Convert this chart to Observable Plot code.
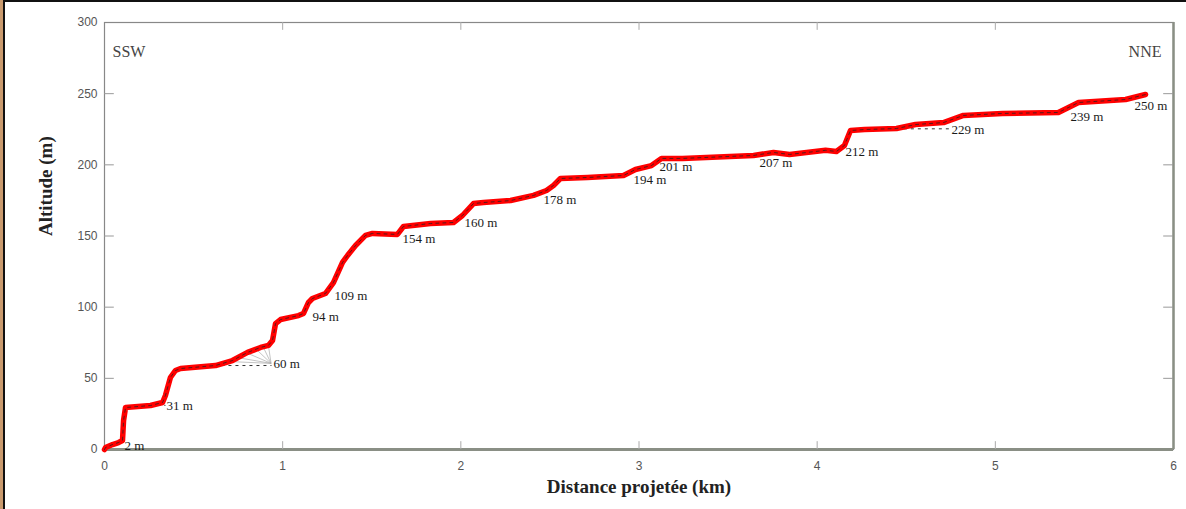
<!DOCTYPE html>
<html>
<head>
<meta charset="utf-8">
<script src="https://cdn.jsdelivr.net/npm/d3@7"></script>
<script src="https://cdn.jsdelivr.net/npm/@observablehq/plot@0.6"></script>
<style>
  html, body { margin: 0; padding: 0; background: #fff; }
  #wrap { position: relative; width: 1186px; height: 509px; overflow: hidden; }
  .tan { position: absolute; left: 0; top: 0; width: 3px; height: 509px; background: #c99a6e; }
  .blk { position: absolute; left: 3px; top: 0; width: 2px; height: 509px; background: #111; }
  .top { position: absolute; left: 3px; top: 0; width: 1183px; height: 2px; background: #111; }
  #chart { position: absolute; left: 0; top: 0; }
  g[aria-label="x-axis tick label"] text, g[aria-label="y-axis tick label"] text { fill: #555; }
</style>
</head>
<body>
<div id="wrap"><div id="chart"></div><div class="tan"></div><div class="blk"></div><div class="top"></div></div>
<script>
// Profile (distance km, altitude m)
const distKm = [0, 0.006, 0.045, 0.079, 0.101, 0.107, 0.118, 0.258, 0.326, 0.342, 0.370, 0.398, 0.427, 0.623, 0.718, 0.803, 0.876, 0.920, 0.943, 0.960, 0.988, 1.089, 1.117, 1.145, 1.167, 1.240, 1.285, 1.336, 1.364, 1.409, 1.465, 1.504, 1.644, 1.678, 1.830, 1.959, 2.009, 2.071, 2.127, 2.279, 2.408, 2.481, 2.520, 2.559, 2.711, 2.913, 2.980, 3.070, 3.126, 3.244, 3.643, 3.755, 3.845, 4.047, 4.108, 4.153, 4.187, 4.266, 4.445, 4.552, 4.709, 4.821, 5.040, 5.354, 5.467, 5.731, 5.843];
const altM   = [0, 1.4, 3.5, 4.9, 6.3, 20.4, 29.5, 30.9, 33.0, 37.9, 50.6, 55.5, 56.9, 59.0, 62.5, 68.2, 71.7, 73.1, 76.6, 88.5, 91.3, 94.1, 95.6, 103.3, 106.1, 109.6, 117.3, 131.4, 136.3, 143.3, 150.4, 151.8, 151.1, 156.7, 158.8, 159.5, 164.4, 172.8, 173.5, 174.9, 178.5, 182.0, 185.5, 190.4, 191.1, 192.5, 196.7, 199.5, 204.5, 204.5, 206.6, 208.7, 207.3, 210.2, 209.4, 213.6, 224.1, 224.8, 225.5, 228.3, 229.7, 234.7, 236.1, 236.8, 243.8, 245.9, 249.4];

// Altitude labels
const labelText = ["2 m", "31 m", "60 m", "94 m", "109 m", "154 m", "160 m", "178 m", "194 m", "201 m", "207 m", "212 m", "229 m", "239 m", "250 m"];
const labelX    = [0.112, 0.348, 0.949, 1.167, 1.291, 1.673, 2.02, 2.464, 2.969, 3.115, 3.676, 4.159, 4.754, 5.422, 5.781];
const labelY    = [2.8, 30.9, 60.4, 93.4, 108.2, 148.2, 159.5, 175.6, 189.7, 198.8, 201.6, 209.4, 224.8, 234.0, 241.7];

// Leader dashes
const leadX1 = [0.62, 0.26, 4.45];
const leadX2 = [0.94, 0.345, 4.75];
const leadY  = [59.0, 31.0, 225.3];

// Fan lines near 60 m
const fanX = [0.70, 0.75, 0.80, 0.85, 0.89, 0.92];
const fanY = [61.8, 64.5, 67.8, 70.6, 72.2, 73.0];

const xTicks = [0, 1, 2, 3, 4, 5, 6];
const yTicks = [0, 50, 100, 150, 200, 250, 300];

const profile = distKm.map((d, i) => ({x: d, y: altM[i]}));
const labels = labelText.map((t, i) => ({t, x: labelX[i], y: labelY[i]}));
const leaders = leadX1.map((x1, i) => ({x1, x2: leadX2[i], y: leadY[i]}));
const fans = fanX.map((x, i) => ({x1: 0.935, y1: 60.5, x2: x, y2: fanY[i]}));

const serif = '"Liberation Serif", "DejaVu Serif", serif';
const sans = '"Liberation Sans", Arial, sans-serif';

const chart = Plot.plot({
  width: 1186, height: 509,
  marginLeft: 104, marginRight: 13, marginTop: 22, marginBottom: 60,
  style: {fontFamily: sans, fontSize: "12px", background: "transparent"},
  x: {domain: [0, 6]},
  y: {domain: [0, 300]},
  marks: [
    Plot.frame({stroke: "#888", strokeWidth: 1.2}),
    Plot.ruleY([0], {stroke: "#8a8f85", strokeWidth: 3}),
    Plot.ruleX([6], {stroke: "#8a8f85", strokeWidth: 2.5}),
    // inward ticks
    Plot.ruleX(xTicks.slice(1, -1), {y1: 0, y2: 5.5, stroke: "#aaa"}),
    Plot.ruleX(xTicks.slice(1, -1), {y1: 300, y2: 294.5, stroke: "#aaa"}),
    Plot.ruleY(yTicks.slice(1, -1), {x1: 0, x2: 0.055, stroke: "#999"}),
    Plot.ruleY(yTicks.slice(1, -1), {x1: 6, x2: 5.945, stroke: "#999"}),
    Plot.axisX(xTicks, {anchor: "bottom", tickSize: 0, tickPadding: 12, tickFormat: d => String(d), label: null, fontSize: 12}),
    Plot.axisY(yTicks, {anchor: "left", tickSize: 0, tickPadding: 7, tickFormat: d => String(d), label: null, fontSize: 12}),
    // decorations
    Plot.link(fans, {x1: "x1", y1: "y1", x2: "x2", y2: "y2", stroke: "#aaa", strokeWidth: 0.7}),
    Plot.ruleY(leaders, {x1: "x1", x2: "x2", y: "y", stroke: "#333", strokeWidth: 1, strokeDasharray: "3,4"}),
    // profile
    Plot.line(profile, {x: "x", y: "y", stroke: "#ff0000", strokeWidth: 5.5, curve: "linear", strokeLinejoin: "round", strokeLinecap: "round"}),
    Plot.line(profile, {x: "x", y: "y", stroke: "#222", strokeWidth: 1, strokeDasharray: "3,4", strokeOpacity: 0.75}),
    // labels
    Plot.text(labels, {x: "x", y: "y", text: "t", textAnchor: "start", fontFamily: serif, fontSize: 13, fill: "#1a1a1a"}),
    Plot.text(["SSW"], {frameAnchor: "top-left", dx: 8, dy: 23, textAnchor: "start", fontFamily: serif, fontSize: 16, fill: "#444"}),
    Plot.text(["NNE"], {frameAnchor: "top-right", dx: -12, dy: 23, textAnchor: "end", fontFamily: serif, fontSize: 16, fill: "#444"}),
    Plot.text(["Distance projetée (km)"], {frameAnchor: "bottom", dy: 43, fontFamily: serif, fontWeight: "bold", fontSize: 19, fill: "#222"}),
    Plot.text(["Altitude (m)"], {frameAnchor: "left", dx: -59, rotate: -90, fontFamily: serif, fontWeight: "bold", fontSize: 19, fill: "#222"})
  ]
});
document.getElementById("chart").appendChild(chart);
</script>
</body>
</html>
